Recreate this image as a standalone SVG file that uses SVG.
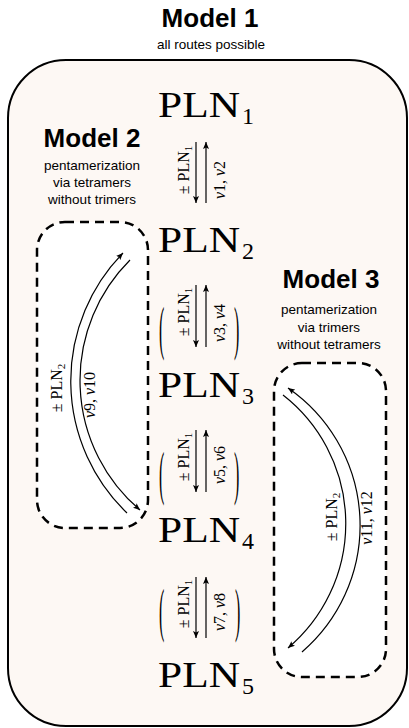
<svg xmlns="http://www.w3.org/2000/svg" width="409" height="728" viewBox="0 0 409 728">
<defs>
<marker id="ah" markerWidth="8" markerHeight="6" refX="7" refY="3" orient="auto" markerUnits="userSpaceOnUse">
<path d="M0,0 L7,3 L0,6 L1.5,3 z" fill="#000"/>
</marker>
<style>
.title{font-family:"Liberation Sans",Arial,sans-serif;font-weight:bold;font-size:26px;text-anchor:middle;fill:#000}
.sub{font-family:"Liberation Sans",Arial,sans-serif;font-size:13.5px;text-anchor:middle;fill:#000}
.pln{font-family:"Liberation Serif","Times New Roman",serif;font-size:36px;fill:#000}
.lbl{font-family:"Liberation Serif","Times New Roman",serif;font-size:16px;text-anchor:middle;fill:#000}
.it{font-style:italic}
.par{font-family:"Liberation Serif","Times New Roman",serif;font-size:59px;fill:#000}
.arr{stroke:#000;stroke-width:1.2;fill:none;marker-end:url(#ah)}
.dash{fill:#fff;stroke:#000;stroke-width:2.5;stroke-dasharray:9 6}
</style>
</defs>
<g id="model1">
<rect x="8" y="60" width="399" height="666" rx="58" ry="58" fill="#fdf8f4" stroke="#000" stroke-width="2"/>
<text class="title" x="210" y="27">Model 1</text>
<text class="sub" x="211" y="49">all routes possible</text>
</g>
<g id="model2">
<rect class="dash" x="37" y="222" width="111" height="306" rx="28" ry="28"/>
<text class="title" x="92" y="147">Model 2</text>
<text class="sub" x="92" y="170">pentamerization</text>
<text class="sub" x="92" y="187">via tetramers</text>
<text class="sub" x="92" y="204">without trimers</text>
</g>
<g id="model3">
<rect class="dash" x="274" y="363" width="112" height="314" rx="28" ry="28"/>
<text class="title" x="331" y="288">Model 3</text>
<text class="sub" x="329" y="314">pentamerization</text>
<text class="sub" x="329" y="332">via trimers</text>
<text class="sub" x="329" y="349">without tetramers</text>
</g>
<g id="pln1"><text class="pln" x="158" y="117"><tspan textLength="82" lengthAdjust="spacingAndGlyphs">PLN</tspan><tspan font-size="24" dx="2" dy="7">1</tspan></text></g>
<g id="pln2"><text class="pln" x="158" y="252"><tspan textLength="82" lengthAdjust="spacingAndGlyphs">PLN</tspan><tspan font-size="24" dx="2" dy="7">2</tspan></text></g>
<g id="pln3"><text class="pln" x="158" y="397"><tspan textLength="82" lengthAdjust="spacingAndGlyphs">PLN</tspan><tspan font-size="24" dx="2" dy="7">3</tspan></text></g>
<g id="pln4"><text class="pln" x="158" y="542"><tspan textLength="82" lengthAdjust="spacingAndGlyphs">PLN</tspan><tspan font-size="24" dx="2" dy="7">4</tspan></text></g>
<g id="pln5"><text class="pln" x="158" y="687"><tspan textLength="82" lengthAdjust="spacingAndGlyphs">PLN</tspan><tspan font-size="24" dx="2" dy="7">5</tspan></text></g>
<g id="connectors">
<path class="arr" d="M196,142 L196,203"/>
<path class="arr" d="M206,203 L206,142"/>
<text class="lbl" transform="translate(189,170) rotate(-90)">± PLN<tspan font-size="11" dy="3">1</tspan></text>
<text class="lbl" transform="translate(225,180) rotate(-90)"><tspan class="it">v</tspan>1, <tspan class="it">v</tspan>2</text>
<path class="arr" d="M196,285 L196,347"/>
<path class="arr" d="M206,347 L206,285"/>
<text class="lbl" transform="translate(189,312) rotate(-90)">± PLN<tspan font-size="11" dy="3">1</tspan></text>
<text class="lbl" transform="translate(225,323) rotate(-90)"><tspan class="it">v</tspan>3, <tspan class="it">v</tspan>4</text>
<text class="par" transform="translate(159,348) scale(0.27,1)">(</text>
<text class="par" transform="translate(234,348) scale(0.27,1)">)</text>
<path class="arr" d="M196,430 L196,492"/>
<path class="arr" d="M206,492 L206,430"/>
<text class="lbl" transform="translate(189,457) rotate(-90)">± PLN<tspan font-size="11" dy="3">1</tspan></text>
<text class="lbl" transform="translate(225,465) rotate(-90)"><tspan class="it">v</tspan>5, <tspan class="it">v</tspan>6</text>
<text class="par" transform="translate(159,493) scale(0.27,1)">(</text>
<text class="par" transform="translate(234,493) scale(0.27,1)">)</text>
<path class="arr" d="M196,577 L196,638"/>
<path class="arr" d="M206,638 L206,577"/>
<text class="lbl" transform="translate(189,604) rotate(-90)">± PLN<tspan font-size="11" dy="3">1</tspan></text>
<text class="lbl" transform="translate(225,612) rotate(-90)"><tspan class="it">v</tspan>7, <tspan class="it">v</tspan>8</text>
<text class="par" transform="translate(159,630) scale(0.27,1)">(</text>
<text class="par" transform="translate(235,630) scale(0.27,1)">)</text>
<path class="arr" d="M127,513 A183,183 0 0 1 123,253"/>
<path class="arr" d="M130,260 A170,170 0 0 0 140,510"/>
<text class="lbl" transform="translate(62,388) rotate(-90)">± PLN<tspan font-size="11" dy="3">2</tspan></text>
<text class="lbl" transform="translate(95,395) rotate(-90)"><tspan class="it">v</tspan>9, <tspan class="it">v</tspan>10</text>
<path class="arr" d="M302,652 A167,167 0 0 0 288,388"/>
<path class="arr" d="M283,395 A163,163 0 0 1 288,648"/>
<text class="lbl" transform="translate(337,517) rotate(-90)">± PLN<tspan font-size="11" dy="3">2</tspan></text>
<text class="lbl" transform="translate(372,518) rotate(-90)"><tspan class="it">v</tspan>11, <tspan class="it">v</tspan>12</text>
</g>
</svg>
